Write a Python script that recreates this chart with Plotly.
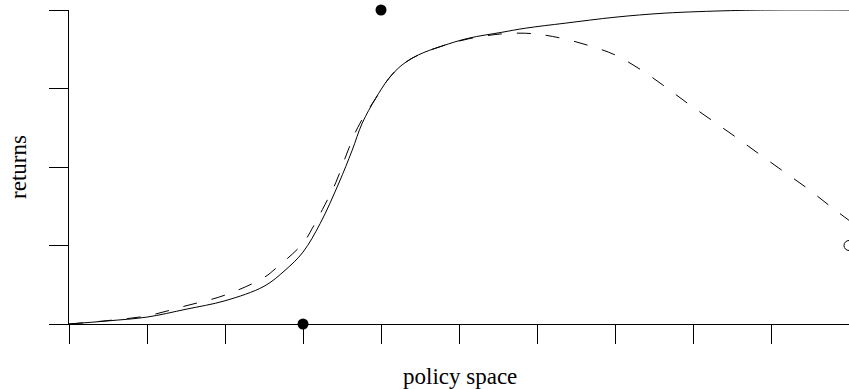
import plotly.graph_objects as go

# Solid curve (returns)
solid_x = [0, 0.5, 1, 1.5, 2, 2.5, 2.77, 3.0, 3.22, 3.46, 3.63, 3.76, 3.93, 4.1, 4.27, 4.48, 4.78, 5.12, 5.55, 5.85, 6.36, 7.0, 7.64, 8.48, 9.0, 10]
solid_y = [0, 0.01, 0.022, 0.047, 0.074, 0.12, 0.171, 0.229, 0.32, 0.449, 0.553, 0.64, 0.718, 0.782, 0.825, 0.857, 0.885, 0.91, 0.929, 0.942, 0.958, 0.977, 0.99, 0.998, 1.0, 1.0]

# Dashed curve
dash_x = [0, 0.5, 1, 1.5, 2, 2.5, 2.65, 3.0, 3.12, 3.25, 3.42, 3.55, 3.7, 3.93, 4.1, 4.27, 4.48, 4.78, 5.12, 5.55, 5.85, 6.1, 6.4, 6.7, 7.0, 7.33, 7.63, 7.93, 8.24, 8.55, 8.85, 9.16, 9.46, 9.76, 10]
dash_y = [0, 0.011, 0.026, 0.058, 0.092, 0.148, 0.177, 0.257, 0.305, 0.365, 0.45, 0.535, 0.625, 0.718, 0.782, 0.825, 0.857, 0.885, 0.908, 0.924, 0.926, 0.92, 0.905, 0.884, 0.857, 0.81, 0.758, 0.703, 0.649, 0.595, 0.541, 0.486, 0.433, 0.375, 0.33]

# Points
filled_x = [3, 4]
filled_y = [0, 1]
open_x = [10]
open_y = [0.25]

x_ticks = [0, 1, 2, 3, 4, 5, 6, 7, 8, 9, 10]
y_ticks = [0, 0.25, 0.5, 0.75, 1]

font_family = "Liberation Serif, Times New Roman, serif"

fig = go.Figure()
fig.add_trace(go.Scatter(x=solid_x, y=solid_y, mode="lines",
                         line=dict(color="black", width=1, shape="spline", smoothing=1),
                         cliponaxis=False, showlegend=False, hoverinfo="skip"))
fig.add_trace(go.Scatter(x=dash_x, y=dash_y, mode="lines",
                         line=dict(color="black", width=1, dash="14px,15px", shape="spline", smoothing=1),
                         cliponaxis=False, showlegend=False, hoverinfo="skip"))
fig.add_trace(go.Scatter(x=filled_x, y=filled_y, mode="markers",
                         marker=dict(color="black", size=11, line=dict(width=0)),
                         cliponaxis=False, showlegend=False, hoverinfo="skip"))
fig.add_trace(go.Scatter(x=open_x, y=open_y, mode="markers",
                         marker=dict(color="white", size=10, line=dict(color="black", width=1)),
                         cliponaxis=False, showlegend=False, hoverinfo="skip"))

fig.update_layout(
    width=849, height=389,
    margin=dict(l=69, r=0, t=10, b=65),
    paper_bgcolor="white", plot_bgcolor="white",
    font=dict(family=font_family, size=23, color="black"),
    xaxis=dict(range=[0, 10], tickvals=x_ticks, showticklabels=False,
               ticks="outside", ticklen=19, tickwidth=1, tickcolor="black",
               showline=True, linecolor="black", linewidth=1,
               showgrid=False, zeroline=False, fixedrange=True),
    yaxis=dict(range=[0, 1], tickvals=y_ticks, showticklabels=False,
               ticks="outside", ticklen=19, tickwidth=1, tickcolor="black",
               showline=True, linecolor="black", linewidth=1,
               showgrid=False, zeroline=False, fixedrange=True),
    annotations=[
        dict(text="policy space", x=0.501, y=-0.166, xref="paper", yref="paper",
             showarrow=False, xanchor="center", yanchor="middle",
             font=dict(family=font_family, size=23, color="black")),
        dict(text="returns", x=-0.0654, y=0.5, xref="paper", yref="paper",
             showarrow=False, xanchor="center", yanchor="middle", textangle=-90,
             font=dict(family=font_family, size=23, color="black")),
    ],
)

fig.write_html("out.html")
